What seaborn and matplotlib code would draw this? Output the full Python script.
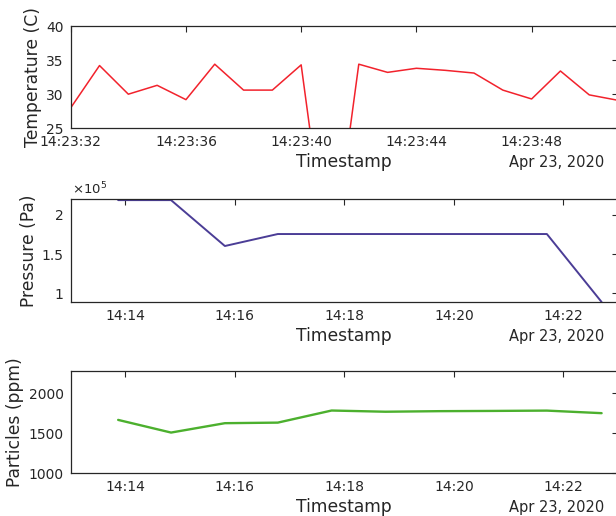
import matplotlib
matplotlib.use("Agg")
import numpy as np
import pandas as pd
import matplotlib.pyplot as plt
import matplotlib.dates as mdates
import matplotlib.ticker as mticker
import seaborn as sns

# temperature, one reading per second
temp_times = pd.date_range("2020-04-23 14:23:32", periods=20, freq="s")
temp_c = [28.0, 34.2, 30.0, 31.3, 29.2, 34.4, 30.6, 30.6, 34.3, 3.0,
          34.4, 33.2, 33.8, 33.5, 33.1, 30.6, 29.3, 33.4, 29.9, 29.1]

# pressure / particles, about one reading per minute
sensor_times = pd.to_datetime(["2020-04-23 " + t for t in
                               ["14:13:52", "14:14:50", "14:15:49", "14:16:47", "14:17:46",
                                "14:18:45", "14:19:44", "14:20:43", "14:21:42", "14:22:42"]])
pressure_pa = [2.19e5, 2.19e5, 1.604e5, 1.757e5, 1.757e5,
               1.757e5, 1.757e5, 1.757e5, 1.757e5, 0.889e5]
particles_ppm = [1666, 1508, 1625, 1632, 1783, 1768, 1775, 1778, 1782, 1750]

sns.set_style("white")
plt.rcParams["font.family"] = ["DejaVu Sans"]
dark = "#262626"

fig = plt.figure(figsize=(6.16, 5.16), dpi=100)
ax1 = fig.add_axes([0.1148, 0.7514, 0.8885, 0.1982])
ax2 = fig.add_axes([0.1148, 0.4147, 0.8885, 0.1996])
ax3 = fig.add_axes([0.1148, 0.0828, 0.8885, 0.1988])

df_t = pd.DataFrame({"time": temp_times, "temp": temp_c})
df_s = pd.DataFrame({"time": sensor_times, "pres": pressure_pa, "part": particles_ppm})

sns.lineplot(data=df_t, x="time", y="temp", ax=ax1, color="#f2222c", lw=1.1)
sns.lineplot(data=df_s, x="time", y="pres", ax=ax2, color="#4b3d96", lw=1.4)
sns.lineplot(data=df_s, x="time", y="part", ax=ax3, color="#4cb02e", lw=1.7)

#Temperature axes
ax1.set_xlim(temp_times[0], temp_times[-1])
ax1.set_ylim(25, 40)
ax1.yaxis.set_major_locator(mticker.MultipleLocator(5))
ax1.xaxis.set_major_locator(mdates.SecondLocator(bysecond=range(0, 60, 4)))
ax1.xaxis.set_major_formatter(mdates.DateFormatter("%H:%M:%S"))
ax1.set_ylabel("Temperature (C)", fontsize=12.3, color=dark, labelpad=3)

#Pressure axes
t0 = pd.Timestamp("2020-04-23 14:13:00")
t1 = pd.Timestamp("2020-04-23 14:23:00")
ax2.set_xlim(t0, t1)
ax2.set_ylim(0.889e5, 2.204e5)
ax2.yaxis.set_major_locator(mticker.MultipleLocator(0.5e5))
ax2.yaxis.set_major_formatter(mticker.FuncFormatter(lambda v, p: "%g" % (v / 1e5)))
ax2.text(0.002, 1.015, r"$\times10^{5}$", transform=ax2.transAxes, fontsize=9.5,
         color=dark, ha="left", va="bottom")
ax2.set_ylabel("Pressure (Pa)", fontsize=12.3, color=dark, labelpad=3)

#Particles axes
ax3.set_xlim(t0, t1)
ax3.set_ylim(1000, 2280)
ax3.yaxis.set_major_locator(mticker.MultipleLocator(500))
ax3.set_ylabel("Particles (ppm)", fontsize=12.3, color=dark, labelpad=3)

for ax in (ax2, ax3):
    ax.xaxis.set_major_locator(mdates.MinuteLocator(byminute=range(0, 60, 2)))
    ax.xaxis.set_major_formatter(mdates.DateFormatter("%H:%M"))

for ax in (ax1, ax2, ax3):
    ax.set_xlabel("Timestamp", fontsize=12.3, color=dark, labelpad=3)
    ax.tick_params(which="both", direction="in", top=True, right=True,
                   length=4, width=0.8, colors=dark, labelsize=10, pad=5)
    for s in ax.spines.values():
        s.set_color(dark)
        s.set_linewidth(0.9)
    ax.annotate("Apr 23, 2020", xy=(0.975, 0), xycoords="axes fraction",
                xytext=(0, -24.5), textcoords="offset points",
                ha="right", va="center", fontsize=10.5, color=dark)

fig.savefig("out.png", dpi=100)
